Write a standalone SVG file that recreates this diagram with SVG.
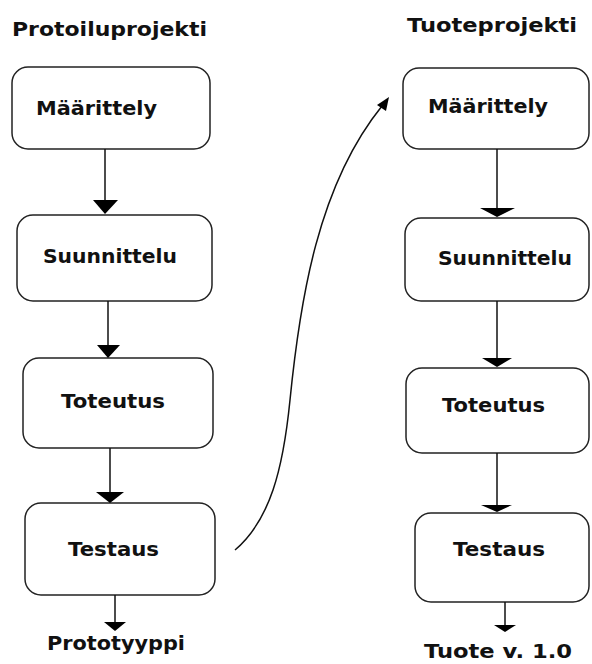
<svg xmlns="http://www.w3.org/2000/svg" width="592" height="664" viewBox="0 0 592 664">
<style>
text{font-family:"DejaVu Sans","Verdana",sans-serif;font-weight:bold;fill:#111}
.t{font-size:19px}
.n{font-size:20px}
.box{fill:#fff;stroke:#222;stroke-width:1.5}
.ln{stroke:#111;stroke-width:1.5;fill:none}
.hd{fill:#000}
</style>
<rect width="592" height="664" fill="#fff"/>
<text class="t" x="12" y="36" textLength="195" lengthAdjust="spacingAndGlyphs">Protoiluprojekti</text>
<text class="t" x="407" y="32" textLength="170" lengthAdjust="spacingAndGlyphs">Tuoteprojekti</text>
<g id="L1"><rect class="box" x="12" y="67" width="198" height="82" rx="16"/><text class="n" x="36" y="115" textLength="121" lengthAdjust="spacingAndGlyphs">Määrittely</text></g>
<g id="L2"><rect class="box" x="17" y="215" width="195" height="86" rx="16"/><text class="n" x="43" y="263" textLength="134" lengthAdjust="spacingAndGlyphs">Suunnittelu</text></g>
<g id="L3"><rect class="box" x="23" y="358" width="190" height="90" rx="16"/><text class="n" x="61" y="408" textLength="104" lengthAdjust="spacingAndGlyphs">Toteutus</text></g>
<g id="L4"><rect class="box" x="25" y="503" width="190" height="92" rx="16"/><text class="n" x="68" y="556" textLength="91" lengthAdjust="spacingAndGlyphs">Testaus</text></g>
<g id="LOut"><text class="n" x="47" y="650" textLength="138" lengthAdjust="spacingAndGlyphs">Prototyyppi</text></g>
<g id="R1"><rect class="box" x="403" y="68" width="186" height="81" rx="16"/><text class="n" x="428" y="113" textLength="120" lengthAdjust="spacingAndGlyphs">Määrittely</text></g>
<g id="R2"><rect class="box" x="405" y="218" width="184" height="83" rx="16"/><text class="n" x="438" y="265" textLength="134" lengthAdjust="spacingAndGlyphs">Suunnittelu</text></g>
<g id="R3"><rect class="box" x="406" y="368" width="183" height="85" rx="16"/><text class="n" x="442" y="412" textLength="103" lengthAdjust="spacingAndGlyphs">Toteutus</text></g>
<g id="R4"><rect class="box" x="415" y="513" width="174" height="89" rx="16"/><text class="n" x="453" y="556" textLength="92" lengthAdjust="spacingAndGlyphs">Testaus</text></g>
<g id="ROut"><text class="n" x="424" y="658" textLength="148" lengthAdjust="spacingAndGlyphs">Tuote v. 1.0</text></g>
<g id="connectors">
<line class="ln" x1="105" y1="149" x2="105" y2="203"/><polygon class="hd" points="93,200 118,200 105,214"/>
<line class="ln" x1="108" y1="301" x2="108" y2="347"/><polygon class="hd" points="97,345 120,345 108,358"/>
<line class="ln" x1="110" y1="448" x2="110" y2="494"/><polygon class="hd" points="96,492 124,492 110,503"/>
<line class="ln" x1="115" y1="595" x2="115" y2="624"/><polygon class="hd" points="104,622 126,622 115,631"/>
<line class="ln" x1="497" y1="149" x2="497" y2="210"/><polygon class="hd" points="480,208 515,208 497,217"/>
<line class="ln" x1="497" y1="301" x2="497" y2="360"/><polygon class="hd" points="482,358 512,358 497,367"/>
<line class="ln" x1="497" y1="453" x2="497" y2="507"/><polygon class="hd" points="481,505 512,505 497,512"/>
<line class="ln" x1="505" y1="602" x2="505" y2="627"/><polygon class="hd" points="494,625 516,625 505,632"/>
<path class="ln" stroke-width="1.2" d="M235,550 C270,520 283,470 290,400 C300,300 318,185 382,106"/>
<polygon class="hd" points="389,97 377,105 386,111"/>
</g>
</svg>
